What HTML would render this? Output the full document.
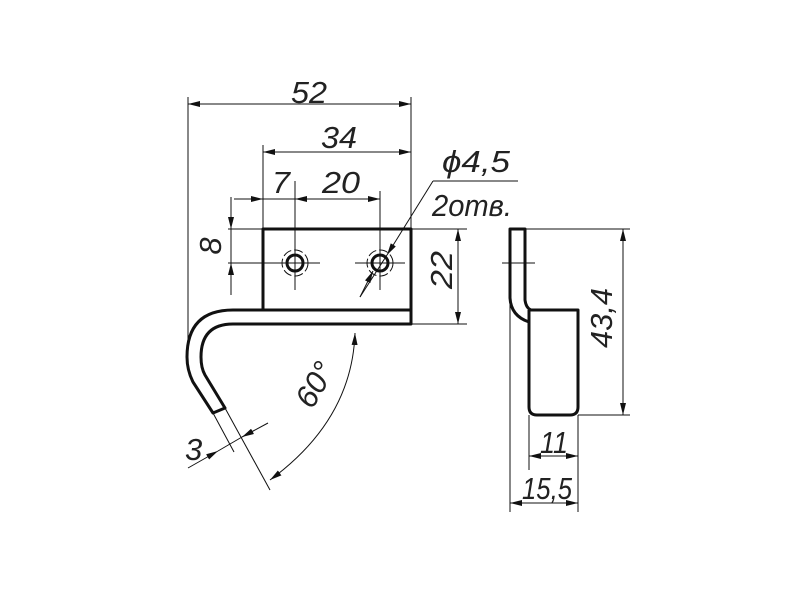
<!DOCTYPE html>
<html><head><meta charset="utf-8"><style>
html,body{margin:0;padding:0;background:#fff;}
svg{display:block}
text{font-family:"Liberation Sans",sans-serif;font-style:italic;font-size:31px;fill:#222;}
</style></head><body>
<svg width="800" height="600" viewBox="0 0 800 600" xmlns="http://www.w3.org/2000/svg">
<defs>
<marker id="a" viewBox="0 0 12 6" refX="12" refY="3" markerWidth="12" markerHeight="6" orient="auto-start-reverse" markerUnits="userSpaceOnUse"><path d="M0,0 L12,3 L0,6 Z" fill="#111"/></marker>
</defs>
<g stroke="#111" stroke-width="1" fill="none">
<line x1="188" y1="97" x2="188" y2="355"/>
<line x1="411" y1="97" x2="411" y2="229"/>
<line x1="263" y1="145" x2="263" y2="229"/>
<line x1="295" y1="181" x2="295" y2="290"/>
<line x1="380" y1="191" x2="380" y2="290"/>
<line x1="228" y1="229" x2="263" y2="229"/>
<line x1="228" y1="263" x2="320" y2="263"/>
<line x1="355" y1="263" x2="405" y2="263"/>
<line x1="411" y1="229" x2="467" y2="229"/>
<line x1="411" y1="324" x2="467" y2="324"/>
<line x1="188" y1="104" x2="411" y2="104" marker-start="url(#a)" marker-end="url(#a)"/>
<line x1="263" y1="152" x2="411" y2="152" marker-start="url(#a)" marker-end="url(#a)"/>
<line x1="234" y1="199" x2="263" y2="199" marker-end="url(#a)"/>
<line x1="263" y1="199" x2="295" y2="199"/>
<line x1="325" y1="199" x2="295" y2="199" marker-end="url(#a)"/>
<line x1="325" y1="199" x2="380" y2="199" marker-end="url(#a)"/>
<line x1="231" y1="197" x2="231" y2="229" marker-end="url(#a)"/>
<line x1="231" y1="295" x2="231" y2="263" marker-end="url(#a)"/>
<line x1="231" y1="229" x2="231" y2="263"/>
<line x1="458" y1="229" x2="458" y2="324" marker-start="url(#a)" marker-end="url(#a)"/>
<line x1="433" y1="181" x2="518" y2="181"/>
<line x1="433" y1="181" x2="387" y2="255" marker-end="url(#a)"/>
<line x1="387" y1="255" x2="360" y2="297"/>
<line x1="360" y1="297" x2="373" y2="271" marker-end="url(#a)"/>
<line x1="295" y1="248" x2="295" y2="288"/>
<line x1="380" y1="248" x2="380" y2="288"/>
<line x1="275" y1="263" x2="320" y2="263"/>
<path d="M355,333 Q352,420 270,480" marker-start="url(#a)" marker-end="url(#a)"/>
<line x1="225" y1="408" x2="270" y2="490"/>
<line x1="213" y1="413" x2="234" y2="452"/>
<line x1="188" y1="468" x2="218" y2="451" marker-end="url(#a)"/>
<line x1="218" y1="451" x2="242" y2="437"/>
<line x1="268" y1="423" x2="242" y2="437" marker-end="url(#a)"/>
<line x1="502" y1="263" x2="535" y2="263"/>
<line x1="525" y1="229" x2="630" y2="229"/>
<line x1="578" y1="415" x2="630" y2="415"/>
<line x1="623" y1="229" x2="623" y2="415" marker-start="url(#a)" marker-end="url(#a)"/>
<line x1="529" y1="415" x2="529" y2="470"/>
<line x1="578" y1="415" x2="578" y2="512"/>
<line x1="510" y1="300" x2="510" y2="512"/>
<line x1="529" y1="456" x2="578" y2="456" marker-start="url(#a)" marker-end="url(#a)"/>
<line x1="510" y1="503" x2="578" y2="503" marker-start="url(#a)" marker-end="url(#a)"/>
</g>
<g stroke="#111" stroke-width="1" fill="none" stroke-dasharray="9 3">
<circle cx="295" cy="263" r="13"/>
<circle cx="380" cy="263" r="13"/>
</g>
<g stroke="#111" stroke-width="3" fill="none" stroke-linejoin="round">
<rect x="263" y="229" width="148" height="81"/>
<path d="M411,310 L233,310 Q187,310 187,357 Q187,370 193,382 L213,413 L225,408 L205,375 Q201,368 201,357 Q201,324 233,324 L411,324 Z"/>
<circle cx="295" cy="263" r="8"/>
<circle cx="380" cy="263" r="8"/>
<path d="M510,229 L525,229 L525,300 Q526,308 531,310 L578,310 L578,407 Q578,415 570,415 L537,415 Q529,415 529,407 L529,322 Q511,316 510,298 Z"/>
<line x1="529" y1="310" x2="529" y2="322"/>
</g>
<text x="291" y="103" textLength="36" lengthAdjust="spacingAndGlyphs">52</text>
<text x="321" y="148" textLength="36" lengthAdjust="spacingAndGlyphs">34</text>
<text x="272" y="193" textLength="18" lengthAdjust="spacingAndGlyphs">7</text>
<text x="322" y="193" textLength="38" lengthAdjust="spacingAndGlyphs">20</text>
<text x="442" y="172" textLength="68" lengthAdjust="spacingAndGlyphs">ϕ4,5</text>
<text x="432" y="216" textLength="80" lengthAdjust="spacingAndGlyphs">2отв.</text>
<text transform="translate(221,246) rotate(-90)" text-anchor="middle">8</text>
<text transform="translate(452,270) rotate(-90)" text-anchor="middle" textLength="38" lengthAdjust="spacingAndGlyphs">22</text>
<text transform="translate(324,390) rotate(-60)" text-anchor="middle">60°</text>
<text x="185" y="460">3</text>
<text transform="translate(612,318) rotate(-90)" text-anchor="middle" textLength="60" lengthAdjust="spacingAndGlyphs">43,4</text>
<text x="540" y="453" textLength="28" lengthAdjust="spacingAndGlyphs">11</text>
<text x="522" y="499" textLength="50" lengthAdjust="spacingAndGlyphs">15,5</text>
</svg>
</body></html>
